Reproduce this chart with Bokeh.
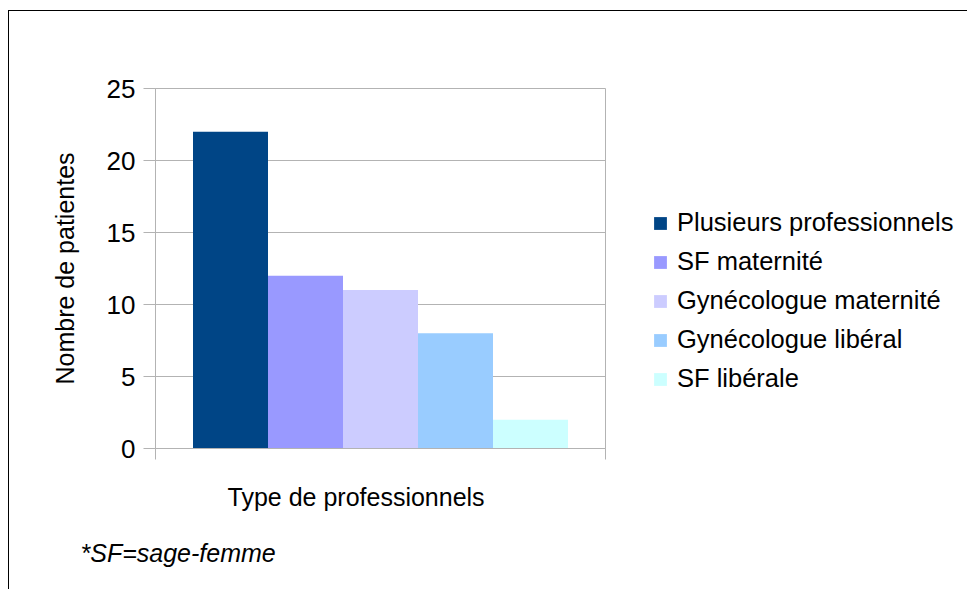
from bokeh.plotting import figure
from bokeh.layouts import row
from bokeh.models import Range1d, FixedTicker, Legend, LegendItem, Title, ColumnDataSource
from bokeh.embed import file_html
from bokeh.resources import INLINE

# ---- data ----
series = ["Plusieurs professionnels", "SF maternité", "Gynécologue maternité",
          "Gynécologue libéral", "SF libérale"]
values = [22, 12, 11, 8, 2]
colors = ["#004586", "#9999ff", "#ccccff", "#99ccff", "#ccffff"]
y_ticks = [0, 5, 10, 15, 20, 25]
x_title = "Type de professionnels"
y_title = "Nombre de patientes"
note = "*SF=sage-femme"

FONT = "Liberation Sans"
GRAY = "#b3b3b3"
H = 578
W1 = 602
W2 = 356

n = len(series)
p = figure(width=W1, height=H, output_backend="svg", toolbar_location=None,
           x_range=Range1d(0, n + 1), y_range=Range1d(y_ticks[0], y_ticks[-1]),
           min_border_left=146, min_border_right=W1 - 146 - 450,
           min_border_top=77, min_border_bottom=H - 77 - 360,
           background_fill_color="white", border_fill_color="white")

sources = []
for i, (v, c) in enumerate(zip(values, colors)):
    src = ColumnDataSource(dict(x=[i + 1], top=[v]))
    sources.append(src)
    p.vbar(x="x", top="top", bottom=0, width=1, source=src,
           fill_color=c, line_color=None)

# axes
p.xaxis.ticker = FixedTicker(ticks=[0, n + 1])
p.xaxis.major_label_text_font_size = "0px"
p.xaxis.major_label_text_color = None
p.xaxis.major_tick_out = 11
p.xaxis.major_tick_in = 0
p.xaxis.minor_tick_out = 0
p.xaxis.axis_line_color = GRAY
p.xaxis.major_tick_line_color = GRAY

p.yaxis.ticker = FixedTicker(ticks=y_ticks)
p.yaxis.major_tick_out = 12
p.yaxis.major_tick_in = 0
p.yaxis.minor_tick_out = 0
p.yaxis.minor_tick_in = 0
p.yaxis.axis_line_color = GRAY
p.yaxis.major_tick_line_color = GRAY
p.yaxis.major_label_text_font = FONT
p.yaxis.major_label_text_font_size = "26px"
p.yaxis.major_label_text_color = "black"
p.yaxis.major_label_standoff = 8
p.yaxis.axis_label = y_title
p.yaxis.axis_label_text_font = FONT
p.yaxis.axis_label_text_font_size = "25px"
p.yaxis.axis_label_text_font_style = "normal"
p.yaxis.axis_label_text_color = "black"
p.yaxis.axis_label_standoff = 25

p.xgrid.grid_line_color = None
p.ygrid.grid_line_color = GRAY
p.outline_line_color = GRAY

p.add_layout(Title(text=x_title, align="left", offset=72, standoff=44,
                   vertical_align="middle",
                   text_font=FONT, text_font_size="25px",
                   text_font_style="normal", text_color="black"), "below")
p.add_layout(Title(text=note, align="left", offset=-75, standoff=8,
                   vertical_align="middle",
                   text_font=FONT, text_font_size="25px",
                   text_font_style="italic", text_color="black"), "below")

# legend panel (separate canvas so the legend is not clipped by the plot frame)
q = figure(width=W2, height=H, output_backend="svg", toolbar_location=None,
           x_range=Range1d(-2, -1), y_range=Range1d(-2, -1),
           x_axis_type=None, y_axis_type=None,
           min_border_left=0, min_border_right=0, min_border_top=0,
           min_border_bottom=0, outline_line_color=None,
           background_fill_color="white", border_fill_color="white")
items = []
for name, c, src in zip(series, colors, sources):
    r = q.vbar(x="x", top="top", bottom=0, width=1, source=src,
               fill_color=c, line_color=None)
    items.append(LegendItem(label=name, renderers=[r]))

legend = Legend(items=items, location=(41, 50), padding=0, margin=0,
                spacing=0, glyph_width=16, glyph_height=16, label_height=39,
                label_standoff=9, border_line_color=None,
                background_fill_alpha=0,
                label_text_font=FONT, label_text_font_size="25.5px",
                label_text_color="black")
q.add_layout(legend, "center")

layout = row(p, q, spacing=0)
layout.styles = {"border-top": "1px solid #000000",
                 "border-left": "1px solid #000000",
                 "margin-left": "8px", "margin-top": "10px"}

open("out.html", "w").write(file_html(layout, INLINE))
